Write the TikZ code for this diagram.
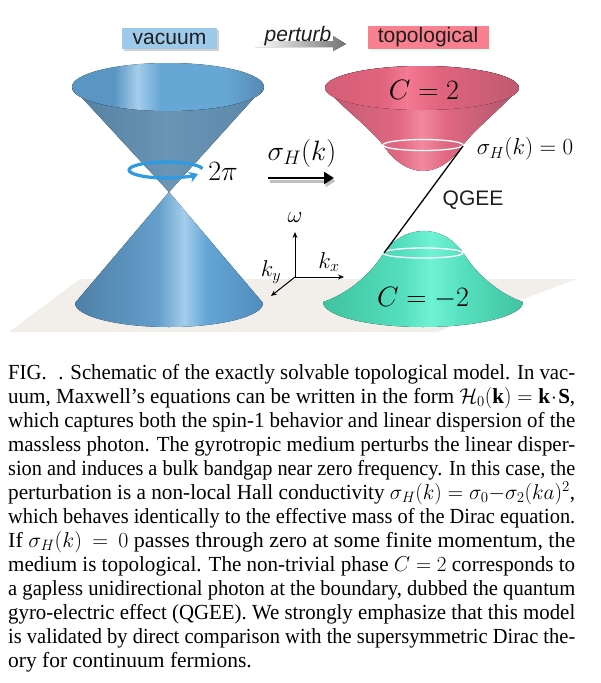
\RequirePackage{fix-cm}
\documentclass[tikz,border=0pt]{standalone}
\usepackage{graphicx}
\usepackage{fontspec}
\setmainfont{Liberation Serif}
\newfontfamily\sansf{Liberation Sans}
\usetikzlibrary{arrows.meta,shadows}
\definecolor{floorc}{HTML}{F2EFEB}
\definecolor{vacbox}{HTML}{9DC9EA}
\definecolor{topbox}{HTML}{F8808F}
\definecolor{ringc}{HTML}{2E9BE0}
% blue
\definecolor{bA}{HTML}{4D80A8}
\definecolor{bB}{HTML}{649ECA}
\definecolor{bL}{HTML}{A3CDEA}
\definecolor{bC}{HTML}{64A6D6}
\definecolor{bD}{HTML}{508CBE}
\definecolor{bW1}{HTML}{557FA0}
\definecolor{bW2}{HTML}{6A95B5}
\definecolor{bW3}{HTML}{5A86A8}
\definecolor{bT1}{HTML}{5A96C4}
\definecolor{bT2}{HTML}{A5CDEA}
\definecolor{bT3}{HTML}{66A7D6}
\definecolor{bT4}{HTML}{5689B0}
% pink
\definecolor{pA}{HTML}{C25A72}
\definecolor{pB}{HTML}{E06882}
\definecolor{pL}{HTML}{F2899F}
\definecolor{pD}{HTML}{AE576B}
\definecolor{pT1}{HTML}{D35E77}
\definecolor{pT2}{HTML}{F27A92}
\definecolor{pT3}{HTML}{E2647E}
\definecolor{pT4}{HTML}{BE5A70}
% green
\definecolor{gA}{HTML}{3FC29F}
\definecolor{gL}{HTML}{70F2D4}
\definecolor{gB}{HTML}{55DFBE}
\definecolor{gD}{HTML}{42C3A2}
\definecolor{labtext}{HTML}{1E1E1E}
\pgfdeclarehorizontalshading{bluelow}{100bp}{color(0bp)=(bA); color(25bp)=(bA); color(47bp)=(bB); color(54bp)=(bL); color(60bp)=(bC); color(75bp)=(bD); color(100bp)=(bD)}
\pgfdeclarehorizontalshading{blueup}{100bp}{color(0bp)=(bW1); color(25bp)=(bW1); color(50bp)=(bW2); color(75bp)=(bW3); color(100bp)=(bW3)}
\pgfdeclarehorizontalshading{bluetop}{100bp}{color(0bp)=(bT1); color(25bp)=(bT1); color(36bp)=(bT1); color(42bp)=(bT2); color(48bp)=(bT3); color(65bp)=(bT3); color(75bp)=(bT4); color(100bp)=(bT4)}
\pgfdeclarehorizontalshading{pinkbody}{100bp}{color(0bp)=(pA); color(25bp)=(pA); color(44bp)=(pB); color(50bp)=(pL); color(56bp)=(pB); color(75bp)=(pD); color(100bp)=(pD)}
\pgfdeclarehorizontalshading{pinktop}{100bp}{color(0bp)=(pT1); color(25bp)=(pT1); color(40bp)=(pT3); color(46bp)=(pT2); color(54bp)=(pT3); color(75bp)=(pT4); color(100bp)=(pT4)}
\pgfdeclarehorizontalshading{greenbody}{100bp}{color(0bp)=(gA); color(25bp)=(gA); color(45bp)=(gB); color(52bp)=(gL); color(60bp)=(gB); color(75bp)=(gD); color(100bp)=(gD)}
\tikzset{
  mathlbl/.style={inner sep=0pt, font=\fontsize{28}{30}\selectfont},
  smalllbl/.style={inner sep=0pt, font=\fontsize{23}{25}\selectfont},
  axlbl/.style={inner sep=0pt, font=\fontsize{23}{25}\selectfont},
  sanslbl/.style={inner sep=0pt, text=labtext, font=\sansf\fontsize{21}{23}\selectfont},
  axis/.style={line width=1pt, -{Stealth[length=6pt,width=5pt]}},
  ringline/.style={draw=white, line width=1.3pt},
  capline/.style={anchor=base west, inner sep=0pt, font=\fontsize{21.5}{24}\selectfont},
}
\newcommand{\capl}[1]{\resizebox{567pt}{\height}{#1}}
\thickmuskip=5mu
\medmuskip=4mu
\begin{document}
\begin{tikzpicture}[x=1pt,y=-1pt]
\useasboundingbox (0,0) rectangle (600,683);
\fill[white] (0,0) rectangle (600,683);
% floor
\fill[floorc] (9,332) -- (80,279) -- (576,279) -- (437,332) -- cycle;
% ---- blue double cone
\coordinate (apex) at (169,192);
\fill[shading=bluelow] (apex) -- (263,303) arc[start angle=0,end angle=-180,x radius=94pt,y radius=24pt] -- cycle;
\fill[shading=blueup] (apex) -- (264,87) arc[start angle=0,end angle=-180,x radius=96pt,y radius=24pt] -- cycle;
\fill[shading=bluetop] (168,87) ellipse[x radius=96pt,y radius=24pt];
% ring arrow
\draw[ringc, line width=3.2pt, -{Stealth[length=9pt,width=11pt]}] (202.5,168.6) arc[start angle=10,end angle=330,x radius=37pt,y radius=8pt];
\node[mathlbl] (twopi) at (223,171) {$2\pi$};
% ---- sigma arrow
\node[mathlbl] (sig) at (302,153) {$\sigma_H(k)$};
\coordinate (sa) at (268,178);
\coordinate (sb) at (334,178);
\draw[black!25, line width=3pt, -{Triangle[length=10pt,width=12pt]}] ([shift={(1.5,3)}]sa) -- ([shift={(1.5,3)}]sb);
\draw[black, line width=2.6pt, -{Triangle[length=10pt,width=12pt]}] (sa) -- (sb);
% ---- axes
\coordinate (O) at (295,277);
\coordinate (wend) at (295,232);
\coordinate (kxend) at (344,277);
\coordinate (kyend) at (271,296);
\draw[axis] (O) -- (wend);
\draw[axis] (O) -- (kxend);
\draw[axis] (O) -- (kyend);
\node[axlbl] (wl) at (295,218) {$\omega$};
\node[axlbl] (kxl) at (329,262) {$k_x$};
\node[axlbl] (kyl) at (271,272) {$k_y$};
% ---- pink upper band
\fill[shading=pinkbody] (325,88) .. controls (345,110) and (370,128) .. (383,145)
  .. controls (395,163) and (410,171) .. (423,171)
  .. controls (436,171) and (451,163) .. (463,145)
  .. controls (476,128) and (500,110) .. (519,88)
  arc[start angle=0,end angle=180,x radius=97pt,y radius=22pt] -- cycle;
\fill[shading=pinktop] (422,88) ellipse[x radius=97pt,y radius=22pt];
\draw[ringline] (423,145) ellipse[x radius=40pt,y radius=5.5pt];
\node[mathlbl] (c2) at (424,90) {$C=2$};
% ---- green lower band
\fill[shading=greenbody] (323,302) .. controls (350,293) and (372,272) .. (383,254)
  .. controls (395,237) and (410,231) .. (424,231)
  .. controls (438,231) and (452,237) .. (464,254)
  .. controls (475,272) and (497,293) .. (523,302)
  arc[start angle=0,end angle=-180,x radius=100pt,y radius=25pt] -- cycle;
\draw[ringline] (423,253) ellipse[x radius=40pt,y radius=5pt];
\node[mathlbl] (cm2) at (423,298) {$C=-2$};
% ---- QGEE
\coordinate (pR) at (463,146);
\coordinate (gL) at (384,253);
\draw[black, line width=1.3pt] (pR) -- (gL);
\node[sanslbl] (qgee) at (473,200) {QGEE};
\node[smalllbl] (sig0) at (525,149) {$\sigma_H(k)=0$};
% ---- top labels
\node[fill=vacbox, minimum width=95pt, minimum height=21pt, inner sep=0pt, text=labtext, font=\sansf\fontsize{21}{23}\selectfont,
  drop shadow={fill=black!35, shadow xshift=1.5pt, shadow yshift=-1.5pt}] (vac) at (169.5,38.5) {vacuum};
\fill[left color=white, right color=black!55] (255,41) -- (333,41) -- (333,36) -- (346,44) -- (333,51) -- (333,47) -- (255,47) -- cycle;
\node[inner sep=0pt, text=labtext, font=\sansf\itshape\fontsize{21}{23}\selectfont] (pert) at (298,36) {perturb};
\node[fill=topbox, minimum width=121pt, minimum height=23pt, inner sep=0pt, text=labtext, font=\sansf\fontsize{21}{23}\selectfont,
  drop shadow={fill=green!40!cyan!25, shadow xshift=2pt, shadow yshift=-1.5pt}] (topo) at (428,37.5) {topological};
% ---- caption
\node[capline] (l1) at (8,379) {\capl{FIG.\hspace{12pt}. Schematic of the exactly solvable topological model. In vac-}};
\node[capline] (l2) at (8,403) {\capl{uum, Maxwell's equations can be written in the form $\mathcal{H}_0(\mathbf{k})=\mathbf{k}\!\cdot\!\mathbf{S}$,}};
\node[capline] (l3) at (8,427) {\capl{which captures both the spin-1 behavior and linear dispersion of the}};
\node[capline] (l4) at (8,451) {\capl{massless photon. The gyrotropic medium perturbs the linear disper-}};
\node[capline] (l5) at (8,475) {\capl{sion and induces a bulk bandgap near zero frequency. In this case, the}};
\node[capline] (l6) at (8,499) {\capl{perturbation is a non-local Hall conductivity $\sigma_H(k)=\sigma_0{-}\sigma_2(ka)^2$,}};
\node[capline] (l7) at (8,523) {\capl{which behaves identically to the effective mass of the Dirac equation.}};
\node[capline] (l8) at (8,547) {\capl{If $\sigma_H(k)$\hspace{10pt}$=$\hspace{10pt}$0$ passes through zero at some finite momentum, the}};
\node[capline] (l9) at (8,571) {\capl{medium is topological. The non-trivial phase $C=2$ corresponds to}};
\node[capline] (l10) at (8,595) {\capl{a gapless unidirectional photon at the boundary, dubbed the quantum}};
\node[capline] (l11) at (8,619) {\capl{gyro-electric effect (QGEE). We strongly emphasize that this model}};
\node[capline] (l12) at (8,643) {\capl{is validated by direct comparison with the supersymmetric Dirac the-}};
\node[capline] (l13) at (8,667) {ory for continuum fermions.};
\end{tikzpicture}
\end{document}
